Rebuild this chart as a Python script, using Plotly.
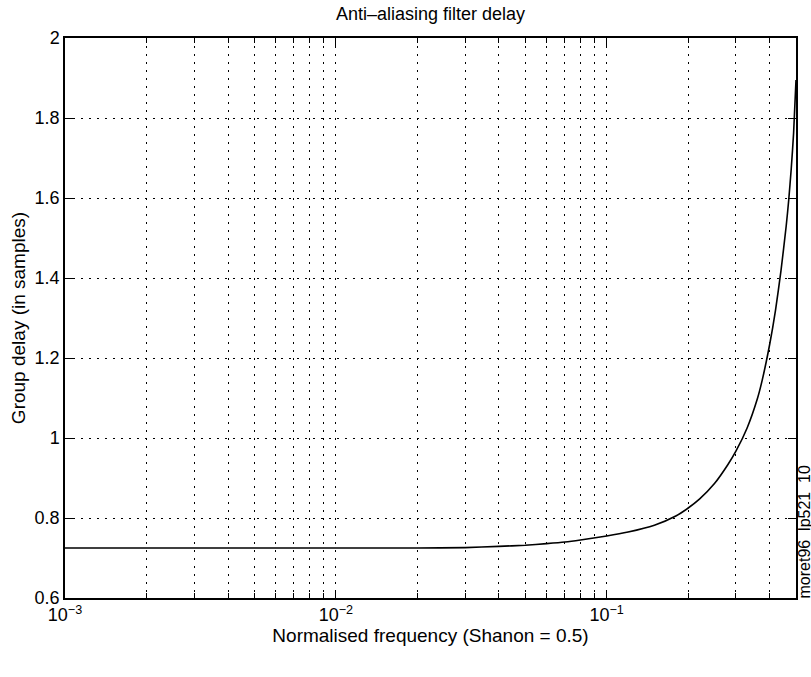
import plotly.graph_objects as go

# Normalised frequency (Nyquist / "Shanon" = 0.5) and group delay in samples
freq = [0.001, 0.002, 0.005, 0.01, 0.02, 0.03, 0.04, 0.05, 0.06, 0.07, 0.08,
        0.10, 0.12, 0.15, 0.18, 0.20, 0.22, 0.25, 0.28, 0.30, 0.33, 0.36, 0.375,
        0.40, 0.42, 0.44, 0.46, 0.47, 0.48, 0.49, 0.50]
delay = [0.725, 0.725, 0.725, 0.725, 0.725, 0.726, 0.729, 0.732, 0.736, 0.740, 0.745,
         0.755, 0.765, 0.782, 0.805, 0.825, 0.847, 0.886, 0.933, 0.967, 1.025, 1.098,
         1.144, 1.235, 1.319, 1.418, 1.530, 1.595, 1.672, 1.763, 1.895]

x_major = [0.001, 0.01, 0.1]
x_major_text = ["10<sup>−3</sup>", "10<sup>−2</sup>", "10<sup>−1</sup>"]
x_minor = [m * d for d in (0.001, 0.01) for m in range(2, 10)] + [0.2, 0.3, 0.4]
y_ticks = [0.6, 0.8, 1.0, 1.2, 1.4, 1.6, 1.8, 2.0]
y_text = ["0.6", "0.8", "1", "1.2", "1.4", "1.6", "1.8", "2"]

FONT = "Liberation Sans, Arial, Helvetica, sans-serif"
GRID_DASH = "2px,6px"

fig = go.Figure()
fig.add_trace(go.Scatter(
    x=freq, y=delay, mode="lines",
    line=dict(color="black", width=1.6, shape="spline", smoothing=0.6),
    showlegend=False, hoverinfo="x+y",
))

fig.update_layout(
    width=811, height=677,
    margin=dict(l=65, r=15, t=38, b=79),
    paper_bgcolor="white", plot_bgcolor="white",
    font=dict(family=FONT, color="black", size=18),
    title=dict(text="Anti\u2013aliasing filter delay", x=0.5, xref="paper",
               y=0.980, yref="container", xanchor="center", yanchor="middle",
               font=dict(size=18)),
)

fig.update_xaxes(
    type="log", range=[-3, -0.30103],
    tickmode="array", tickvals=x_major, ticktext=x_major_text,
    ticks="inside", ticklen=8, tickwidth=1, tickcolor="black",
    showline=True, linecolor="black", linewidth=1.5, mirror="ticks",
    showgrid=True, gridcolor="black", gridwidth=1, griddash=GRID_DASH,
    zeroline=False, tickfont=dict(size=18),
    minor=dict(tickmode="array", tickvals=x_minor, ticks="inside", ticklen=5,
               tickcolor="black", showgrid=True, gridcolor="black",
               gridwidth=1, griddash=GRID_DASH),
    title=dict(text="Normalised frequency (Shanon = 0.5)", font=dict(size=19),
               standoff=4),
)

fig.update_yaxes(
    range=[0.6, 2.0],
    tickmode="array", tickvals=y_ticks, ticktext=y_text,
    ticks="inside", ticklen=8, tickwidth=1, tickcolor="black",
    showline=True, linecolor="black", linewidth=1.5, mirror="ticks",
    showgrid=True, gridcolor="black", gridwidth=1, griddash=GRID_DASH,
    zeroline=False, tickfont=dict(size=18),
    title=dict(text="Group delay (in samples)", font=dict(size=19), standoff=4),
)

fig.add_annotation(
    text="moret96  lp521  10", textangle=-90,
    xref="paper", yref="paper", x=1.0, y=0.0,
    xanchor="left", yanchor="bottom", xshift=-2, yshift=-2,
    showarrow=False, font=dict(size=16), borderpad=0,
)

fig.write_html("out.html")
